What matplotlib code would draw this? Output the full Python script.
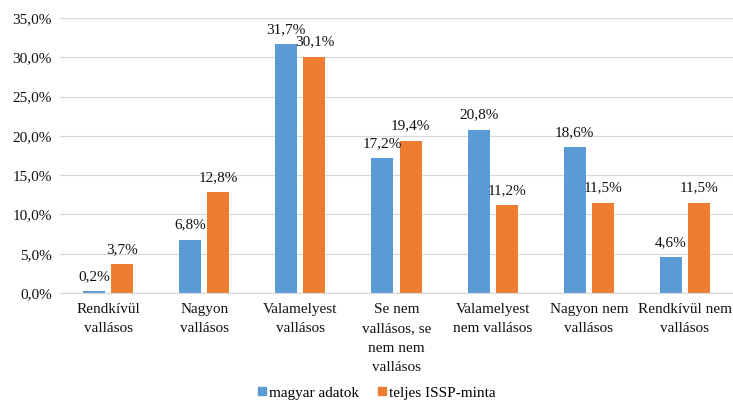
import matplotlib.pyplot as plt
import numpy as np
from matplotlib.patches import Patch

plt.rcParams["font.family"] = ["Liberation Serif", "DejaVu Serif"]

# ---------------------------------------------------------------------------
# Data
# ---------------------------------------------------------------------------
categories = [
    "Rendkívül\nvallásos",
    "Nagyon\nvallásos",
    "Valamelyest\nvallásos",
    "Se nem\nvallásos, se\nnem nem\nvallásos",
    "Valamelyest\nnem vallásos",
    "Nagyon nem\nvallásos",
    "Rendkívül nem\nvallásos",
]
magyar = [0.2, 6.8, 31.7, 17.2, 20.8, 18.6, 4.6]
issp = [3.7, 12.8, 30.1, 19.4, 11.2, 11.5, 11.5]
series_names = ["magyar adatok", "teljes ISSP-minta"]
yticks = [0, 5, 10, 15, 20, 25, 30, 35]

BLUE = "#5b9bd5"
ORANGE = "#ed7d31"
GRID = "#d9d9d9"
TEXT = "#111111"

# ---------------------------------------------------------------------------
# Plot
# ---------------------------------------------------------------------------
fig = plt.figure(figsize=(7.33, 4.01), dpi=100)
ax = fig.add_axes([60 / 733, 108 / 401, 673 / 733, 275 / 401])

x = np.arange(len(categories))
w = 0.229
off = 0.146

bars1 = ax.bar(x - off, magyar, w, color=BLUE, zorder=2)
bars2 = ax.bar(x + off, issp, w, color=ORANGE, zorder=2)

for bars, vals in ((bars1, magyar), (bars2, issp)):
    for b, v in zip(bars, vals):
        ax.annotate(f"{v:.1f}%".replace(".", ","),
                    (b.get_x() + b.get_width() / 2, v),
                    xytext=(0, 8), textcoords="offset points",
                    ha="center", va="baseline", fontsize=11, color=TEXT,
                    zorder=3)

ax.set_xlim(-0.5, len(categories) - 0.5)
ax.set_ylim(0, 35)
ax.set_yticks(yticks)
ax.set_yticklabels([f"{t:.1f}%".replace(".", ",") for t in yticks],
                   fontsize=11, color=TEXT)
ax.set_xticks(x)
ax.set_xticklabels(categories, fontsize=11, color=TEXT)
for lab in ax.get_xticklabels():
    lab.set_linespacing(1.65)
ax.tick_params(axis="both", length=0)
ax.tick_params(axis="x", pad=7)
ax.tick_params(axis="y", pad=6)

ax.grid(axis="y", color=GRID, linewidth=0.9, zorder=0)
ax.set_axisbelow(True)
for side in ("left", "right", "top"):
    ax.spines[side].set_visible(False)
ax.spines["bottom"].set_color(GRID)
ax.spines["bottom"].set_linewidth(0.9)

handles = [Patch(color=BLUE), Patch(color=ORANGE)]
fig.legend(handles, series_names, loc="center", bbox_to_anchor=(377 / 733, 1 - 393 / 401),
           ncol=2, frameon=False, fontsize=11, handlelength=0.5, handleheight=0.5,
           handletextpad=0.25, columnspacing=1.2, borderpad=0)

fig.savefig("out.png", dpi=100)
